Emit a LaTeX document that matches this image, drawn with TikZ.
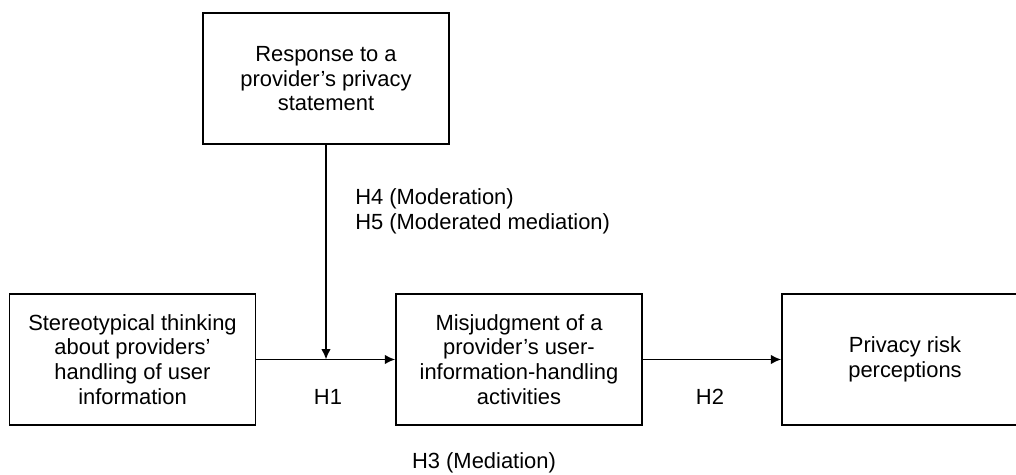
\documentclass[tikz,border=0pt]{standalone}
\usepackage{fontspec}
\setmainfont{Liberation Sans}
\usepackage{tikz}
\usetikzlibrary{arrows.meta}
\tikzset{
	varbox/.style={draw, line width=1.1pt, minimum width=6.15cm, minimum height=3.275cm, align=center, inner sep=0pt},
	link/.style={line width=1.3pt, -{Latex[length=0.26cm,width=0.24cm]}},
	hyp/.style={inner sep=0pt, align=left},
}
\begin{document}
\begin{tikzpicture}[font=\fontsize{15.6}{17.6}\selectfont]
		\useasboundingbox (0,0) rectangle (25.4,11.875);
		\node[varbox] (resp) at (8.15,9.91) {Response to a\\provider's privacy\\statement};
		\node[varbox] (stereo) at (3.3125,2.8875) {Stereotypical thinking\\about providers'\\handling of user\\information};
		\node[varbox] (misj) at (12.975,2.8875) {Misjudgment of a\\provider's user-\\information-handling\\activities};
		\node[varbox] (risk) at (22.625,2.8875) {Privacy risk\\perceptions};
		\coordinate (moder) at (resp.south |- stereo.east);
		\draw[link] (stereo.east)--(misj.west);
		\draw[link] (resp.south)--(moder);
		\draw[link] (misj.east)--(risk.west);
		\node[hyp] (h1) at (8.2,1.95) {H1};
		\node[hyp] (h2) at (17.75,1.95) {H2};
		\node[hyp] (h3) at (12.1,0.3) {H3 (Mediation)};
		\node[hyp, anchor=west] (h45) at (8.875,6.6) {H4 (Moderation)\\H5 (Moderated mediation)};
		\end{tikzpicture}
\end{document}
